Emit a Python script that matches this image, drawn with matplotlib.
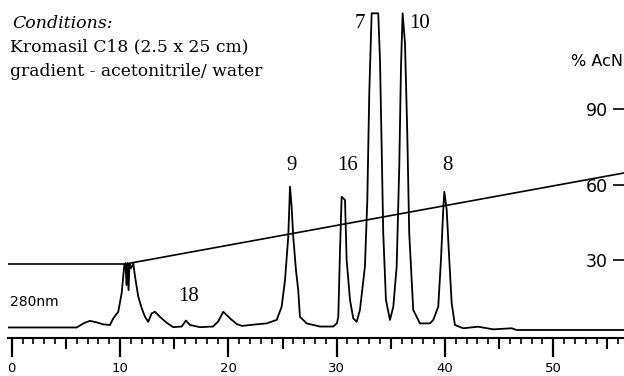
import matplotlib
matplotlib.use('Agg')
import matplotlib.pyplot as plt

# trace at 280 nm (time in min, signal in arbitrary units)
time_min = [-0.35, 5.99, 6.67, 7.22, 7.87, 8.42, 9.07, 9.37, 9.83, 10.15,
            10.39, 10.50, 10.59, 10.68, 10.78, 10.87, 11.01, 11.22, 11.38, 11.68,
            11.99, 12.30, 12.60, 12.92, 13.22, 13.68, 14.30, 14.91, 15.69, 16.08,
            16.45, 17.38, 18.58, 19.04, 19.53, 20.15, 20.77, 21.26, 22.61, 23.54,
            24.46, 24.92, 25.23, 25.53, 25.69, 25.84, 25.99, 26.24, 26.45, 26.61,
            27.23, 28.46, 29.69, 30.03, 30.15, 30.31, 30.46, 30.77, 30.92, 31.23,
            31.53, 31.85, 32.15, 32.61, 32.83, 33.01, 33.23, 33.84, 34.00, 34.16,
            34.30, 34.55, 34.92, 35.23, 35.54, 35.78, 35.94, 36.09, 36.31, 36.52,
            36.70, 37.07, 37.69, 38.61, 38.92, 39.38, 39.63, 39.84, 39.94, 40.16,
            40.40, 40.62, 40.92, 41.69, 43.07, 44.46, 46.16, 46.62, 56.8]
signal = [0, 0, 1.4, 2.1, 1.6, 1.0, 0.8, 2.9, 5.0, 11.0,
          19.9, 20.5, 13.5, 20.5, 11.9, 20.2, 18.9, 20.4, 16.2, 9.8,
          6.2, 3.4, 1.8, 4.5, 5.0, 3.4, 1.5, 0.1, 0.3, 2.2,
          0.8, 0.1, 0.3, 1.8, 5.0, 2.9, 1.1, 0.5, 1.0, 1.3,
          2.4, 6.6, 15.1, 28.9, 44.8, 38.5, 28.9, 18.3, 11.9, 3.4,
          1.3, 0.3, 0.3, 1.4, 3.4, 24.7, 41.6, 40.6, 21.5, 8.8,
          2.9, 1.8, 5.6, 19.4, 40.6, 74.5, 100, 100, 85.1, 56.5,
          30.1, 8.8, 2.4, 6.6, 19.4, 51.2, 83.0, 100, 90.5, 61.8,
          30.0, 5.6, 1.3, 1.3, 2.4, 6.6, 21.5, 37.4, 43.2, 37.4,
          21.5, 7.7, 0.8, -0.25, 0.25, -0.6, -0.25, -0.8, -0.8]

# acetonitrile gradient
grad_time = [-0.35, 10.5, 56.8]
grad_acn = [28.4, 28.4, 64.9]

# peak numbers
peak_names = ['18', '9', '16', '7', '10', '8']
peak_t = [16.3, 25.84, 31.0, 32.15, 37.69, 40.23]
peak_s = [9.8, 51.4, 51.4, 96.8, 96.9, 51.4]

x_ticks = [0, 10, 20, 30, 40, 50]
acn_ticks = [30, 60, 90]

fig = plt.figure(figsize=(6.24, 3.76), dpi=100)
ax = fig.add_axes([8 / 624, 0.1019, 619 / 624, 0.8981])
ax.plot(time_min, signal, color='black', lw=1.3)
ax.set_xlim(-0.35, 56.81)
ax.set_ylim(-3.25, 104.24)

for s in ['top', 'left', 'right']:
    ax.spines[s].set_visible(False)
ax.spines['bottom'].set_linewidth(1.5)
ax.set_yticks([])
ax.set_xticks(x_ticks)
ax.set_xticks(range(0, 57), minor=True)
ax.tick_params(axis='x', which='major', length=13.5, width=1.6, pad=4,
               labelsize=9.5)
ax.tick_params(axis='x', which='minor', length=4.5, width=1.2)

# medium ticks every 5 min
sec = ax.secondary_xaxis('bottom')
sec.set_xticks([5, 15, 25, 35, 45, 55])
sec.tick_params(length=8, width=1.5, labelbottom=False)
sec.spines['bottom'].set_visible(False)

for name, t, s in zip(peak_names, peak_t, peak_s):
    ax.text(t, s, name, family='Liberation Serif', fontsize=15,
            ha='center', va='center')

ax2 = ax.twinx()
ax2.plot(grad_time, grad_acn, color='black', lw=1.2)
ax2.set_ylim(-0.98, 133.65)
for s in ax2.spines.values():
    s.set_visible(False)
ax2.set_yticks(acn_ticks)
ax2.tick_params(axis='y', direction='in', length=10, width=1.2,
                pad=-14, labelsize=12.5)
for lab in ax2.get_yticklabels():
    lab.set_ha('right')

fig.text(571 / 624, 1 - 62 / 376, '% AcN', fontsize=11.5, va='center')
fig.text(10 / 624, 1 - 302 / 376, '280nm', fontsize=10, va='center')

fig.text(12 / 624, 1 - 28 / 376, 'Conditions:', family='DejaVu Serif',
         style='italic', fontsize=12.5, va='baseline')
fig.text(10 / 624, 1 - 51 / 376, 'Kromasil C18 (2.5 x 25 cm)',
         family='DejaVu Serif', fontsize=12.3, va='baseline')
fig.text(10 / 624, 1 - 76 / 376, 'gradient - acetonitrile/ water',
         family='DejaVu Serif', fontsize=12.3, va='baseline')

fig.savefig('out.png', dpi=100)
